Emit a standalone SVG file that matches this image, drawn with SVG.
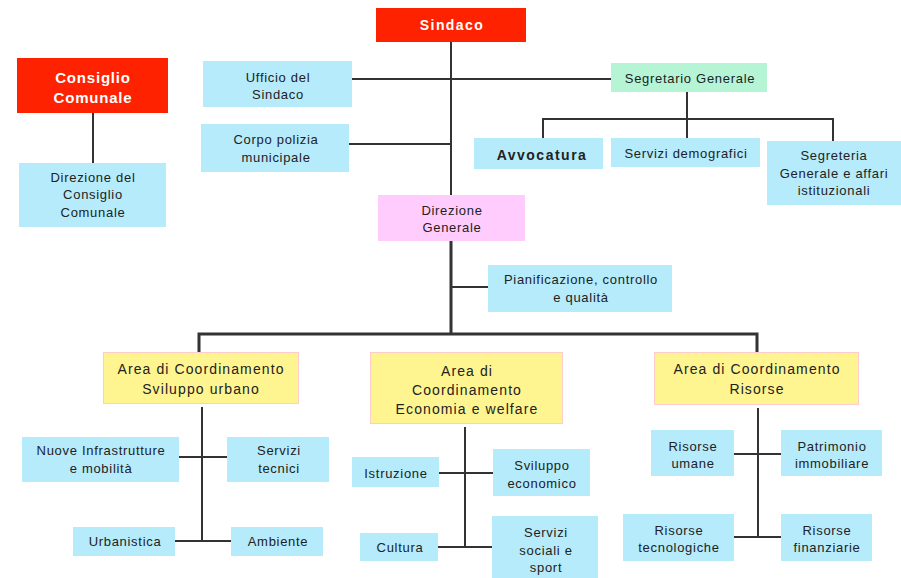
<svg xmlns="http://www.w3.org/2000/svg" width="901" height="578" viewBox="0 0 901 578">
<style>
text{font-family:"Liberation Sans",Arial,sans-serif;font-size:13px;letter-spacing:0.7px;fill:#222;text-anchor:middle;dominant-baseline:central}
.red{fill:#ff2200}
.blue{fill:#b5ebfb}
.pink{fill:#ffccfd}
.green{fill:#b5f5d6}
.yellow{fill:#fff590;stroke:#ffcccc;stroke-width:1}
.w{fill:#fff;font-weight:bold;font-size:14px;letter-spacing:1.4px}
.cc{font-size:15px;letter-spacing:0.8px}
.area{font-size:14px;letter-spacing:1.1px}
.bold{font-weight:bold;font-size:14px;letter-spacing:1.5px}
.c line,.c path{stroke:#333;stroke-width:2;fill:none}
.c .thick{stroke-width:3}
</style>
<rect width="901" height="578" fill="#fff"/>
<g class="c" id="connectors">
<line x1="451" y1="42" x2="451" y2="195"/>
<line x1="352" y1="79" x2="611" y2="79"/>
<line x1="349" y1="144" x2="451" y2="144"/>
<line x1="687" y1="92" x2="687" y2="138"/>
<path d="M543,138 V119 H833 V141"/>
<line x1="93" y1="113" x2="93" y2="163"/>
<line class="thick" x1="451" y1="241" x2="451" y2="333"/>
<line x1="451" y1="287" x2="488" y2="287"/>
<path class="thick" d="M199,352 V334 H757 V352"/>
<line x1="202" y1="407" x2="202" y2="541"/>
<line x1="179" y1="457" x2="227" y2="457"/>
<line x1="175" y1="541" x2="231" y2="541"/>
<line x1="465" y1="427" x2="465" y2="547"/>
<line x1="439" y1="473" x2="493" y2="473"/>
<line x1="438" y1="547" x2="492" y2="547"/>
<line x1="758" y1="408" x2="758" y2="538"/>
<line x1="734" y1="454" x2="781" y2="454"/>
<line x1="734" y1="537" x2="781" y2="537"/>
</g>
<g id="sindaco"><rect class="red" x="376" y="8" width="150" height="34"/><text class="w" x="452" y="25">Sindaco</text></g>
<g id="consiglio"><rect class="red" x="17" y="58" width="151" height="55"/><text class="w cc" x="93" y="77">Consiglio</text><text class="w cc" x="93" y="97">Comunale</text></g>
<g id="dir-consiglio"><rect class="blue" x="19" y="163" width="147" height="64"/><text x="93" y="177">Direzione del</text><text x="93" y="194">Consiglio</text><text x="93" y="212">Comunale</text></g>
<g id="ufficio"><rect class="blue" x="203" y="61" width="149" height="46"/><text x="278" y="77">Ufficio del</text><text x="278" y="94">Sindaco</text></g>
<g id="polizia"><rect class="blue" x="201" y="124" width="148" height="48"/><text x="276" y="139">Corpo polizia</text><text x="276" y="157">municipale</text></g>
<g id="segretario"><rect class="green" x="611" y="63" width="156" height="29"/><text x="690" y="78">Segretario Generale</text></g>
<g id="avvocatura"><rect class="blue" x="474" y="138" width="129" height="31"/><text class="bold" x="542" y="155">Avvocatura</text></g>
<g id="demografici"><rect class="blue" x="611" y="138" width="149" height="29"/><text x="686" y="153">Servizi demografici</text></g>
<g id="segreteria"><rect class="blue" x="767" y="141" width="134" height="64"/><text x="834" y="155">Segreteria</text><text x="834" y="173">Generale e affari</text><text x="834" y="190">istituzionali</text></g>
<g id="dir-generale"><rect class="pink" x="378" y="195" width="147" height="46"/><text x="452" y="210">Direzione</text><text x="452" y="227">Generale</text></g>
<g id="pianificazione"><rect class="blue" x="488" y="265" width="184" height="47"/><text x="581" y="279">Pianificazione, controllo</text><text x="581" y="297">e qualità</text></g>
<g id="area-sviluppo"><rect class="yellow" x="103.5" y="352.5" width="195" height="51"/><text class="area" x="201" y="369">Area di Coordinamento</text><text class="area" x="201" y="389">Sviluppo urbano</text></g>
<g id="area-economia"><rect class="yellow" x="370.5" y="352.5" width="192" height="71"/><text class="area" x="467" y="371">Area di</text><text class="area" x="467" y="390">Coordinamento</text><text class="area" x="467" y="409">Economia e welfare</text></g>
<g id="area-risorse"><rect class="yellow" x="654.5" y="352.5" width="204" height="52"/><text class="area" x="757" y="369">Area di Coordinamento</text><text class="area" x="757" y="389">Risorse</text></g>
<g id="infrastrutture"><rect class="blue" x="22" y="437" width="157" height="45"/><text x="101" y="450">Nuove Infrastrutture</text><text x="101" y="468">e mobilità</text></g>
<g id="servizi-tecnici"><rect class="blue" x="227" y="437" width="102" height="45"/><text x="279" y="450">Servizi</text><text x="279" y="468">tecnici</text></g>
<g id="urbanistica"><rect class="blue" x="73" y="527" width="102" height="29"/><text x="125" y="541">Urbanistica</text></g>
<g id="ambiente"><rect class="blue" x="231" y="527" width="92" height="29"/><text x="278" y="541">Ambiente</text></g>
<g id="istruzione"><rect class="blue" x="352" y="457" width="87" height="30"/><text x="396" y="473">Istruzione</text></g>
<g id="sviluppo-economico"><rect class="blue" x="493" y="449" width="97" height="47"/><text x="542" y="465">Sviluppo</text><text x="542" y="483">economico</text></g>
<g id="cultura"><rect class="blue" x="360" y="533" width="78" height="28"/><text x="400" y="547">Cultura</text></g>
<g id="servizi-sociali"><rect class="blue" x="492" y="516" width="106" height="62"/><text x="546" y="532">Servizi</text><text x="546" y="550">sociali e</text><text x="546" y="567">sport</text></g>
<g id="risorse-umane"><rect class="blue" x="651" y="430" width="83" height="46"/><text x="693" y="446">Risorse</text><text x="693" y="463">umane</text></g>
<g id="patrimonio"><rect class="blue" x="781" y="430" width="101" height="46"/><text x="832" y="446">Patrimonio</text><text x="832" y="463">immobiliare</text></g>
<g id="risorse-tecnologiche"><rect class="blue" x="623" y="514" width="111" height="47"/><text x="679" y="530">Risorse</text><text x="679" y="547">tecnologiche</text></g>
<g id="risorse-finanziarie"><rect class="blue" x="781" y="514" width="91" height="47"/><text x="827" y="530">Risorse</text><text x="827" y="547">finanziarie</text></g>
</svg>
